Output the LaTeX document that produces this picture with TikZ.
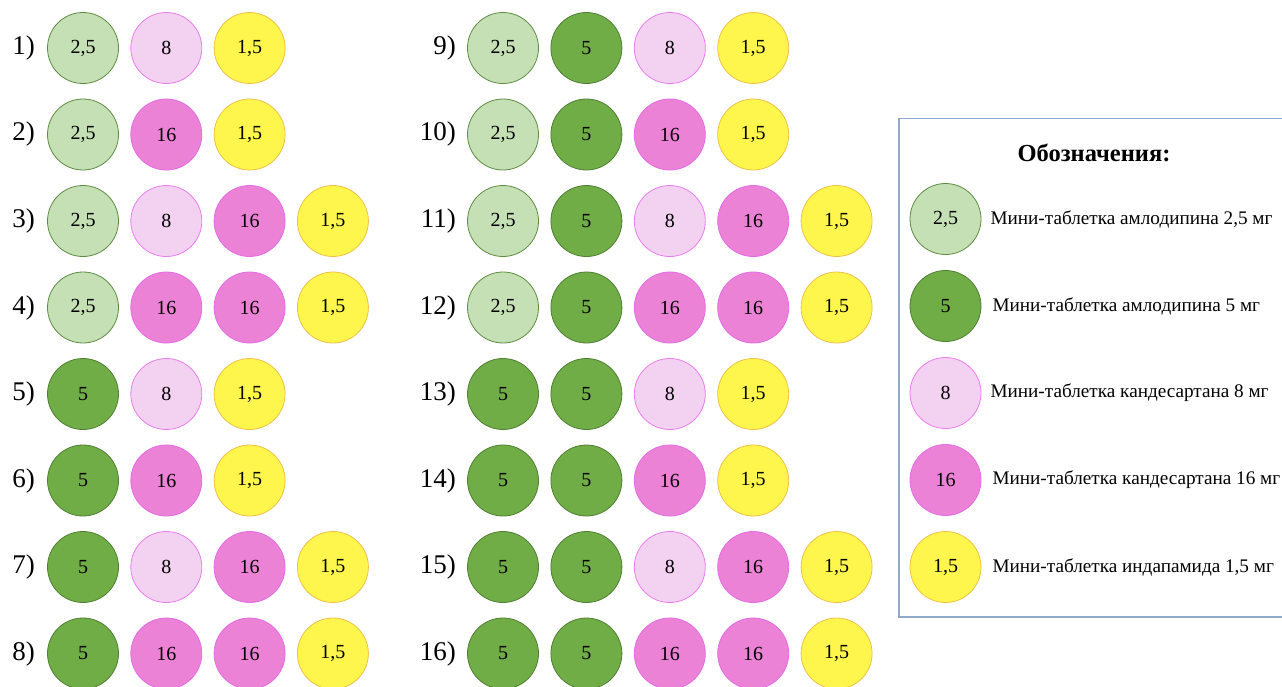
\documentclass[tikz,border=0pt]{standalone}
\usepackage{fontspec}
\setmainfont{Liberation Serif}
\usepackage{tikz}
\usetikzlibrary{positioning}
\definecolor{amsfill}{HTML}{C5E0B4}
\definecolor{amsdraw}{HTML}{5E8C43}
\definecolor{amlfill}{HTML}{70AD47}
\definecolor{amldraw}{HTML}{507E32}
\definecolor{cdsfill}{HTML}{F3D1F0}
\definecolor{cdsdraw}{HTML}{EA7DEE}
\definecolor{cdlfill}{HTML}{EC82D6}
\definecolor{cdldraw}{HTML}{E36BE6}
\definecolor{indfill}{HTML}{FFF64D}
\definecolor{inddraw}{HTML}{F0C048}
\definecolor{legdraw}{HTML}{8FAACC}
\tikzset{
  pill/.style={circle, minimum size=71pt, inner sep=0pt, line width=0.8pt, font=\fontsize{20}{22}\selectfont},
  am25/.style={pill, draw=amsdraw, fill=amsfill, node contents={2,5}},
  am5/.style={pill, draw=amldraw, fill=amlfill, node contents={5}},
  cd8/.style={pill, draw=cdsdraw, fill=cdsfill, node contents={8}},
  cd16/.style={pill, draw=cdldraw, fill=cdlfill, node contents={16}},
  ind15/.style={pill, draw=inddraw, fill=indfill, node contents={1,5}},
  rowlab/.style={anchor=east, inner sep=0pt, font=\fontsize{27}{30}\selectfont},
  legbox/.style={draw=legdraw, line width=1.2pt},
  legtitle/.style={font=\fontsize{24.5}{27}\selectfont\bfseries},
  legtext/.style={anchor=west, inner sep=0pt, font=\fontsize{19.2}{21}\selectfont},
}
\begin{document}
\begin{tikzpicture}[x=1pt, y=-1pt]
  \useasboundingbox (0,0) rectangle (1282,686);
  % combinations 1-8
  \foreach \r/\lst in {1/{am25,cd8,ind15}, 2/{am25,cd16,ind15},
      3/{am25,cd8,cd16,ind15}, 4/{am25,cd16,cd16,ind15},
      5/{am5,cd8,ind15}, 6/{am5,cd16,ind15},
      7/{am5,cd8,cd16,ind15}, 8/{am5,cd16,cd16,ind15}}{
    \node[rowlab] (lab\r) at (35, {48+(\r-1)*86.5}) {\r)};
    \foreach \p [count=\c] in \lst {
      \node (p\r-\c) at ({83+(\c-1)*83.3}, {48+(\r-1)*86.5}) [\p];
    }
  }
  % combinations 9-16
  \foreach \r/\lst in {9/{am25,am5,cd8,ind15}, 10/{am25,am5,cd16,ind15},
      11/{am25,am5,cd8,cd16,ind15}, 12/{am25,am5,cd16,cd16,ind15},
      13/{am5,am5,cd8,ind15}, 14/{am5,am5,cd16,ind15},
      15/{am5,am5,cd8,cd16,ind15}, 16/{am5,am5,cd16,cd16,ind15}}{
    \node[rowlab] (lab\r) at (456, {48+(\r-9)*86.5}) {\r)};
    \foreach \p [count=\c] in \lst {
      \node (p\r-\c) at ({503+(\c-1)*83.4}, {48+(\r-9)*86.5}) [\p];
    }
  }
  % legend
  \draw[legbox] (899,118.5) rectangle (1300,617);
  \node[legtitle] (legtitle) at (1094,153) {Обозначения:};
  \node (leg1) at (945.5,219) [am25];
  \node (leg2) at (945.5,306) [am5];
  \node (leg3) at (945.5,393) [cd8];
  \node (leg4) at (945.5,480) [cd16];
  \node (leg5) at (945.5,567) [ind15];
  \node[legtext, right=9pt of leg1] {Мини-таблетка амлодипина 2,5 мг};
  \node[legtext, right=11pt of leg2] {Мини-таблетка амлодипина 5 мг};
  \node[legtext, right=9pt of leg3] {Мини-таблетка кандесартана 8 мг};
  \node[legtext, right=11pt of leg4] {Мини-таблетка кандесартана 16 мг};
  \node[legtext, right=11pt of leg5] {Мини-таблетка индапамида 1,5 мг};
\end{tikzpicture}
\end{document}
